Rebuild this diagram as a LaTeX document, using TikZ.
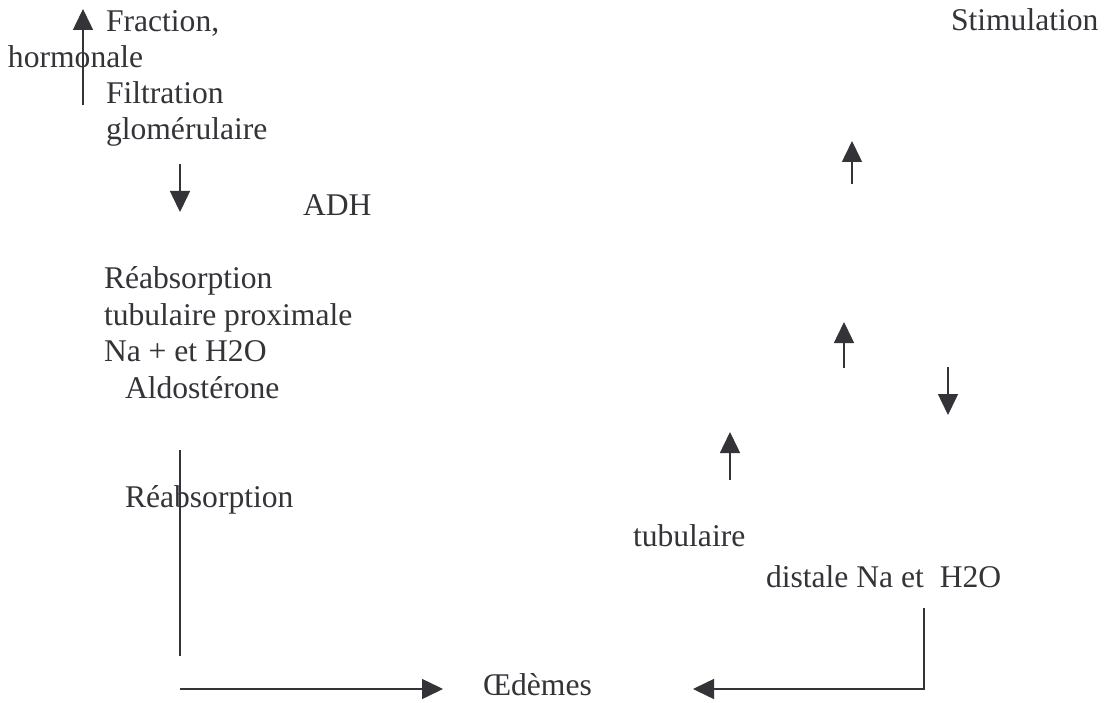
\documentclass[tikz,border=0pt]{standalone}
\usepackage{fontspec}
\setmainfont{Liberation Serif}
\usetikzlibrary{arrows.meta}
\definecolor{ink}{rgb}{0.2,0.2,0.22}
\tikzset{
  lbl/.style={anchor=base west, inner sep=0pt, outer sep=0pt, text=ink, font=\fontsize{31.6}{36}\selectfont},
  conn/.style={draw=ink, line width=1.5pt},
  arr/.style={conn, -{Triangle[length=21pt,width=20pt]}}
}
\begin{document}
\begin{tikzpicture}[x=1pt,y=-1pt]
\useasboundingbox (0,0) rectangle (1108,703);
% texts
\node[lbl] (fraction) at (106,32) {Fraction,};
\node[lbl] (hormonale) at (8,68) {hormonale};
\node[lbl] (filtration) at (106,104) {Filtration};
\node[lbl] (glom) at (106,140) {glomérulaire};
\node[lbl] (adh) at (303,216) {ADH};
\node[lbl] (reab1) at (104,288) {Réabsorption};
\node[lbl] (tubprox) at (104,325) {tubulaire proximale};
\node[lbl] (naeth) at (104,361) {Na + et H2O};
\node[lbl] (aldo) at (125,398) {Aldostérone};
\node[lbl] (reab2) at (125,507) {Réabsorption};
\node[lbl] (tubul) at (633,546) {tubulaire};
\node[lbl] (distale) at (766,587) {distale Na et\ \ H2O};
\node[lbl] (oedemes) at (483,695) {Œdèmes};
\node[lbl] (stim) at (951,31) {Stimulation};
% arrow endpoints
\coordinate (a1s) at (83,105);  \coordinate (a1e) at (83,9);
\coordinate (a2s) at (180,164); \coordinate (a2e) at (180,212);
\coordinate (a3s) at (852,184); \coordinate (a3e) at (852,141);
\coordinate (a4s) at (844,368); \coordinate (a4e) at (844,322);
\coordinate (a5s) at (948,367); \coordinate (a5e) at (948,415);
\coordinate (a6s) at (730,480); \coordinate (a6e) at (730,432);
\coordinate (l1s) at (180,450); \coordinate (l1e) at (180,656);
\coordinate (h1s) at (180,689); \coordinate (h1e) at (443,689);
\coordinate (r1s) at (924,608); \coordinate (r1c) at (924,689); \coordinate (r1e) at (693,689);
% connectors
\draw[arr] (a1s) -- (a1e);
\draw[arr] (a2s) -- (a2e);
\draw[arr] (a3s) -- (a3e);
\draw[arr] (a4s) -- (a4e);
\draw[arr] (a5s) -- (a5e);
\draw[arr] (a6s) -- (a6e);
\draw[conn] (l1s) -- (l1e);
\draw[arr] (h1s) -- (h1e);
\draw[arr] (r1s) -- (r1c) -- (r1e);
\end{tikzpicture}
\end{document}
